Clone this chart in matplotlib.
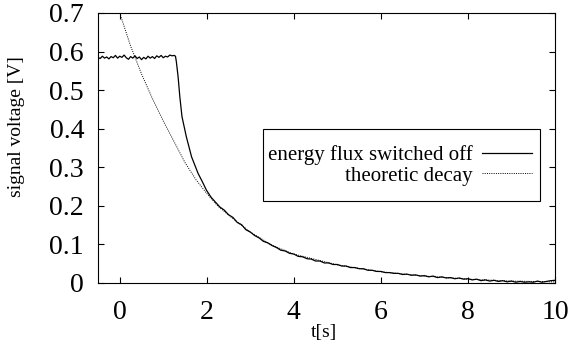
import numpy as np
import matplotlib.pyplot as plt
from matplotlib.patches import Rectangle

plt.rcParams['font.family'] = ['Liberation Serif', 'DejaVu Serif']

t_flat = np.arange(-0.5, 1.26, 0.05)
v_flat = [0.585, 0.582, 0.588, 0.583, 0.586, 0.581, 0.587, 0.584, 0.590, 0.583,
          0.588, 0.585, 0.591, 0.584, 0.580, 0.587, 0.583, 0.589, 0.582, 0.586,
          0.579, 0.585, 0.581, 0.588, 0.583, 0.587, 0.582, 0.589, 0.585, 0.590,
          0.584, 0.588, 0.586, 0.591, 0.589, 0.590]

# the drop after the flux is switched off
t_drop = [1.28, 1.30, 1.34, 1.38, 1.43, 1.53, 1.65, 1.80, 1.90, 1.99, 2.10, 2.22]
v_drop = [0.588, 0.574, 0.535, 0.483, 0.431, 0.379, 0.327, 0.284, 0.262, 0.241, 0.222, 0.207]

# long tail
t_tail = np.round(np.arange(2.3, 10.01, 0.1), 2)
v_tail = [0.197, 0.189, 0.177, 0.170, 0.157, 0.151, 0.138, 0.132, 0.123, 0.117,
          0.108, 0.104, 0.097, 0.092, 0.085, 0.083, 0.077, 0.075, 0.069, 0.068,
          0.063, 0.062, 0.057, 0.057, 0.052, 0.052, 0.048, 0.048, 0.044, 0.044,
          0.040, 0.040, 0.037, 0.037, 0.033, 0.033, 0.030, 0.030, 0.027, 0.027,
          0.025, 0.025, 0.022, 0.023, 0.020, 0.021, 0.018, 0.019, 0.016, 0.018,
          0.014, 0.016, 0.013, 0.014, 0.011, 0.013, 0.010, 0.011, 0.008, 0.010,
          0.006, 0.008, 0.005, 0.007, 0.004, 0.006, 0.003, 0.005, 0.002, 0.004,
          0.002, 0.003, 0.002, 0.005, 0.002, 0.004, 0.006, 0.007]

t_meas = np.concatenate([t_flat, t_drop, t_tail])
v_meas = np.concatenate([v_flat, v_drop, v_tail])

# theoretic decay
t_theo = [0.0, 0.25, 0.5, 0.75, 1.0, 1.25, 1.5, 1.75, 2.0, 2.25, 2.5, 3.0, 3.5,
          4.0, 5.0, 6.0, 7.0, 8.0, 9.0, 10.0]
v_theo = [0.700, 0.614, 0.542, 0.478, 0.420, 0.366, 0.312, 0.268, 0.232, 0.200,
          0.176, 0.132, 0.098, 0.075, 0.047, 0.029, 0.018, 0.010, 0.005, 0.003]

xticks = [0, 2, 4, 6, 8, 10]
yticks = [0, 0.1, 0.2, 0.3, 0.4, 0.5, 0.6, 0.7]
ylabels = ['0', '0.1', '0.2', '0.3', '0.4', '0.5', '0.6', '0.7']

fig = plt.figure(figsize=(5.68, 3.48), dpi=100)
ax = fig.add_axes([98/568, 65/348, 457/568, 270/348])

l1, = ax.plot(t_meas, v_meas, color='k', lw=0.9)
l2, = ax.plot(t_theo, v_theo, color='k', lw=0.7, linestyle=(0, (1, 1.3)))

ax.set_xlim(-0.5, 10)
ax.set_ylim(0, 0.7)
ax.set_xticks(xticks)
ax.set_yticks(yticks)
ax.set_yticklabels(ylabels)
ax.tick_params(direction='in', length=4.5, width=0.8, labelsize=20,
               top=True, right=True, pad=12)
ax.tick_params(axis='y', pad=10)
for s in ax.spines.values():
    s.set_linewidth(0.8)

ax.set_xlabel('t[s]', fontsize=14)
ax.xaxis.set_label_coords(0.495, -0.150)
ax.set_ylabel('signal voltage [V]', fontsize=14)
ax.yaxis.set_label_coords(-0.160, 0.581)

# key box like gnuplot
fig.patches.append(Rectangle((263/568, (348-201)/348), (540-263)/568, 72/348,
                             transform=fig.transFigure, fill=False, lw=0.8, ec='k'))
ax.legend([l1, l2], ['energy flux switched off', 'theoretic decay'],
          loc='upper right', bbox_to_anchor=(532/568, (348-145)/348),
          bbox_transform=fig.transFigure, frameon=False, markerfirst=False,
          fontsize=15, handlelength=2.4, handletextpad=0.45,
          labelspacing=0.05, borderpad=0, borderaxespad=0)

fig.savefig('out.png', dpi=100)
